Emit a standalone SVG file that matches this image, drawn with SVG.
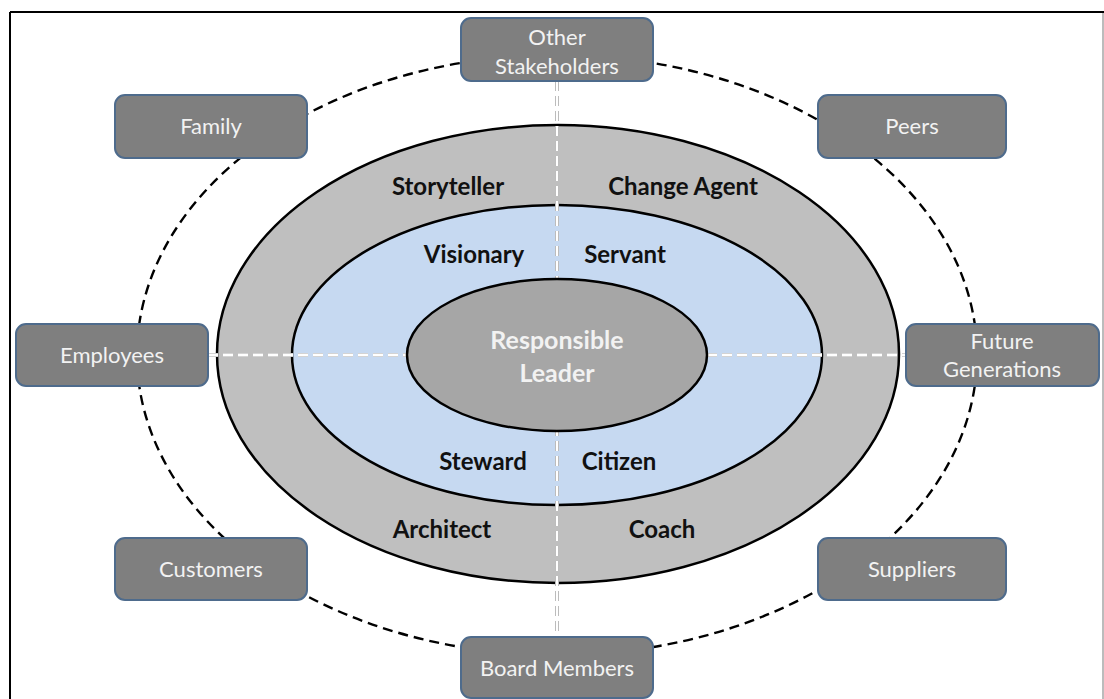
<svg xmlns="http://www.w3.org/2000/svg" width="1104" height="699" viewBox="0 0 1104 699">
<style>
.box{fill:#7f7f7f;stroke:#4e6b8c;stroke-width:2}
.bl{font-family:Lato,"Open Sans",sans-serif;font-size:22px;fill:#f2f2f2;text-anchor:middle}
.rl{font-family:Lato,"Open Sans",sans-serif;font-size:24px;font-weight:bold;fill:#111;text-anchor:middle}
.cl{font-family:Lato,"Open Sans",sans-serif;font-size:25px;font-weight:bold;fill:#f2f2f2;text-anchor:middle}
.ring{stroke:#000;stroke-width:2.5}
.dout{fill:none;stroke:#a6a6a6;stroke-width:4;stroke-dasharray:10 5}
.din{fill:none;stroke:#fff;stroke-width:2.5;stroke-dasharray:10 5}
</style>
<rect width="1104" height="699" fill="#fff"/>
<g id="frame">
<line x1="10" y1="12" x2="1104" y2="12" stroke="#000" stroke-width="2"/>
<line x1="10" y1="12" x2="10" y2="699" stroke="#000" stroke-width="2"/>
<line x1="1103" y1="13" x2="1103" y2="699" stroke="#a6a6a6" stroke-width="1.5"/>
</g>
<g id="orbit">
<ellipse cx="557" cy="355" rx="420" ry="300" fill="none" stroke="#000" stroke-width="2.4" stroke-dasharray="10 6"/>
</g>
<g id="outer-ring">
<ellipse class="ring" cx="558" cy="354" rx="341" ry="229" fill="#bfbfbf"/>
</g>
<g id="middle-ring">
<ellipse class="ring" cx="557" cy="355" rx="265" ry="150" fill="#c6d9f1"/>
</g>
<g id="connectors">
<line class="dout" x1="557" y1="81" x2="557" y2="637"/>
<line class="din" x1="557" y1="81" x2="557" y2="637"/>
<line class="dout" x1="208" y1="355" x2="407" y2="355" stroke="#e0e0e0"/>
<line class="din" x1="208" y1="355" x2="407" y2="355" style="stroke-width:3"/>
<line class="dout" x1="707" y1="355" x2="906" y2="355"/>
<line class="din" x1="707" y1="355" x2="906" y2="355" style="stroke-width:3"/>
</g>
<g id="responsible-leader">
<ellipse class="ring" cx="557" cy="355" rx="150" ry="76" fill="#a6a6a6"/>
<text class="cl" x="557" y="349">Responsible</text>
<text class="cl" x="557" y="382">Leader</text>
</g>
<g id="roles">
<text class="rl" x="448" y="195">Storyteller</text>
<text class="rl" x="683" y="195">Change Agent</text>
<text class="rl" x="474" y="263">Visionary</text>
<text class="rl" x="625" y="263">Servant</text>
<text class="rl" x="483" y="470">Steward</text>
<text class="rl" x="619" y="470">Citizen</text>
<text class="rl" x="442" y="538">Architect</text>
<text class="rl" x="662" y="538">Coach</text>
</g>
<g id="other-stakeholders">
<rect class="box" x="461" y="18" width="192" height="63" rx="10"/>
<text class="bl" x="557" y="45">Other</text>
<text class="bl" x="557" y="74">Stakeholders</text>
</g>
<g id="family">
<rect class="box" x="115" y="95" width="192" height="63" rx="10"/>
<text class="bl" x="211" y="134">Family</text>
</g>
<g id="peers">
<rect class="box" x="818" y="95" width="188" height="63" rx="10"/>
<text class="bl" x="912" y="134">Peers</text>
</g>
<g id="employees">
<rect class="box" x="16" y="324" width="192" height="62" rx="10"/>
<text class="bl" x="112" y="363">Employees</text>
</g>
<g id="future-generations">
<rect class="box" x="906" y="324" width="193" height="62" rx="10"/>
<text class="bl" x="1002" y="349">Future</text>
<text class="bl" x="1002" y="377">Generations</text>
</g>
<g id="customers">
<rect class="box" x="115" y="538" width="192" height="62" rx="10"/>
<text class="bl" x="211" y="577">Customers</text>
</g>
<g id="suppliers">
<rect class="box" x="818" y="538" width="188" height="62" rx="10"/>
<text class="bl" x="912" y="577">Suppliers</text>
</g>
<g id="board-members">
<rect class="box" x="461" y="637" width="192" height="61" rx="10"/>
<text class="bl" x="557" y="676">Board Members</text>
</g>
</svg>
